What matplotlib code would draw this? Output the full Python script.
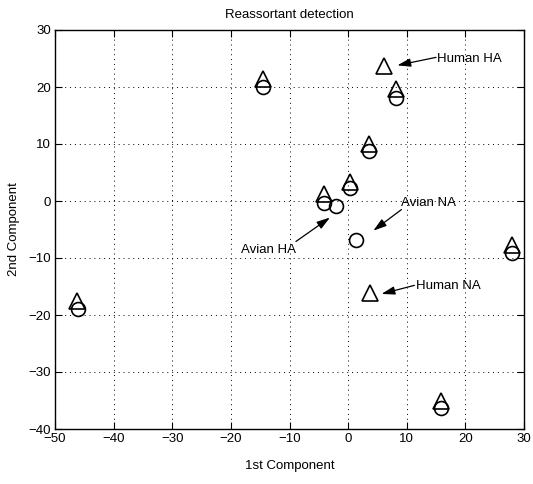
import matplotlib
matplotlib.use("Agg")
import matplotlib.pyplot as plt

# Data
tri_x = [-46.2, -14.6, 8.1, 6.2, 3.5, 0.3, -4.2, 3.8, 28.0, 15.8]
tri_y = [-17.6, 21.4, 19.6, 23.7, 10.0, 3.4, 1.2, -16.2, -7.8, -35.1]
circ_x = [-46.1, -14.5, 8.1, 3.6, 0.3, -4.1, -2.0, 1.3, 28.0, 15.9]
circ_y = [-18.9, 20.0, 18.0, 8.7, 2.2, -0.3, -0.8, -6.8, -9.2, -36.4]

labels = ["Human HA", "Avian NA", "Avian HA", "Human NA"]
arrow_tail_x = [15.0, 9.1, -8.9, 11.3]
arrow_tail_y = [25.2, -1.5, -7.1, -14.8]
arrow_head_x = [8.4, 4.3, -3.1, 5.7]
arrow_head_y = [23.8, -5.2, -2.9, -16.3]
label_x = [15.2, 9.1, -13.6, 11.5]
label_y = [24.9, -0.3, -8.6, -14.9]
label_ha = ["left", "left", "center", "left"]

xticks = list(range(-50, 31, 10))
yticks = list(range(-40, 31, 10))

plt.rcParams['font.family'] = ['Liberation Sans', 'DejaVu Sans']
fig = plt.figure(figsize=(5.33, 4.84), dpi=100)
ax = fig.add_axes([55/533, 1-429/484, 469/533, 399/484])

ax.plot(tri_x, tri_y, linestyle='none', marker='^', markersize=11,
        markerfacecolor='none', markeredgecolor='black', markeredgewidth=1.2, zorder=3)
ax.plot(circ_x, circ_y, linestyle='none', marker='o', markersize=10,
        markerfacecolor='none', markeredgecolor='black', markeredgewidth=1.2, zorder=3)

for i in range(len(labels)):
    ax.annotate('', xy=(arrow_head_x[i], arrow_head_y[i]),
                xytext=(arrow_tail_x[i], arrow_tail_y[i]),
                arrowprops=dict(arrowstyle='-|>,head_length=0.8,head_width=0.25',
                                color='black', lw=0.9, shrinkA=0, shrinkB=0))
    ax.text(label_x[i], label_y[i], labels[i], ha=label_ha[i], va='center', fontsize=9.5)

ax.set_xlim(-50, 30)
ax.set_ylim(-40, 30)
ax.set_xticks(xticks)
ax.set_yticks(yticks)
ax.set_xticklabels([str(t).replace('-', '\u2212') for t in xticks])
ax.set_yticklabels([str(t).replace('-', '\u2212') for t in yticks])
ax.tick_params(direction='in', length=5, width=0.8, top=True, right=True, labelsize=9.5, pad=3)
ax.grid(True, linestyle=(0, (1, 4)), color='black', linewidth=0.7)
for s in ax.spines.values():
    s.set_linewidth(1.0)

ax.set_title('Reassortant detection', fontsize=9.5, pad=9)
ax.set_xlabel('1st Component', fontsize=9.5, labelpad=11)
ax.set_ylabel('2nd Component', fontsize=9.5, labelpad=6)

fig.savefig('out.png', dpi=100)
